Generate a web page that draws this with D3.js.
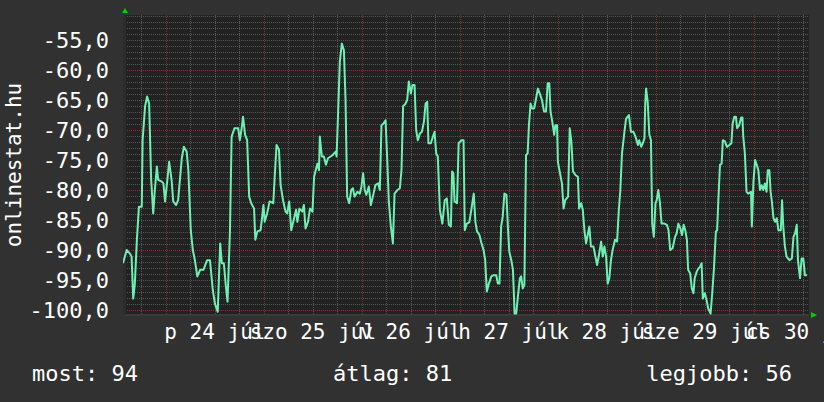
<!DOCTYPE html>
<html>
<head>
<meta charset="utf-8">
<script src="https://cdn.jsdelivr.net/npm/d3@7"></script>
<style>
  body { margin: 0; background: #313131; }
  svg { display: block; }
  text { font-family: "DejaVu Sans Mono", monospace; fill: #ffffff; }
</style>
</head>
<body>
<svg id="chart" width="824" height="402"></svg>
<script>
// hours since 23 Jul 13:30 (7 day window) and ping values (negated ms)
const hours = [
  0.0,0.9,1.7,2.1,2.5,2.9,3.4,3.9,4.6,4.8,5.4,5.9,6.4,6.9,7.4,7.8,8.3,8.6,9.5,9.9,
  10.3,10.7,11.3,11.9,12.3,13.0,13.5,14.0,14.4,14.9,15.6,16.0,16.6,17.1,17.6,18.2,18.9,19.7,20.6,21.3,
  22.0,22.5,23.2,23.8,24.2,24.7,25.2,25.6,26.2,26.6,27.3,28.2,
  28.6,29.0,29.4,29.9,30.4,30.9,31.4,32.1,32.4,32.9,33.7,34.4,34.7,35.3,35.9,36.8,37.2,37.6,38.2,38.6,
  39.2,39.8,40.2,40.7,41.2,41.9,42.4,42.7,43.2,43.9,44.3,44.7,45.3,45.8,46.4,46.8,47.2,47.6,48.0,48.2,
  48.7,49.2,49.7,50.2,51.3,52.1,52.3,52.7,53.1,53.6,54.1,54.5,54.9,55.4,55.9,
  56.3,56.7,57.4,58.0,58.4,58.8,59.2,59.6,60.2,60.7,61.2,61.8,62.5,62.9,63.3,63.8,64.3,64.7,65.1,65.6,
  66.1,66.5,67.2,67.8,68.2,68.6,69.1,69.6,70.0,70.5,70.9,71.4,71.8,72.2,72.7,73.2,73.7,74.1,74.5,74.8,
  75.4,75.9,76.3,76.7,77.1,77.6,78.2,78.8,79.3,79.8,80.3,80.6,80.9,81.2,81.8,82.2,82.9,83.4,83.7,
  84.2,84.8,85.3,85.9,86.3,86.7,87.3,87.8,88.3,88.7,89.1,89.6,90.2,90.8,91.4,91.8,92.2,92.6,93.0,93.4,
  93.9,94.3,94.6,95.1,95.5,95.9,96.3,96.7,97.2,97.5,97.9,98.3,98.7,99.1,99.4,99.8,100.2,100.7,101.1,101.6,
  102.2,102.6,103.1,103.6,104.0,104.4,104.7,105.2,105.6,105.9,106.3,106.5,107.1,107.5,107.9,108.3,109.0,109.4,109.8,110.2,
  110.8,111.4,111.7,
  112.2,112.6,113.0,113.4,113.8,114.2,114.6,115.2,115.7,116.1,116.5,117.1,117.5,117.9,118.3,118.7,119.1,119.5,119.9,120.5,
  121.0,121.4,121.8,122.2,122.8,123.2,123.9,124.4,125.0,125.5,126.1,126.4,126.9,127.3,127.7,127.9,128.1,128.5,128.9,129.3,
  129.6,130.0,130.4,130.7,131.1,131.5,131.9,132.6,133.2,133.6,134.0,134.6,135.2,135.6,136.0,136.5,136.9,137.3,137.7,138.1,
  138.4,
  138.9,139.3,139.7,140.0,140.5,140.9,141.3,141.7,142.0,142.5,143.0,143.3,143.9,144.3,144.7,145.2,145.5,145.8,146.2,146.6,
  146.9,147.4,147.9,148.5,149.0,149.3,149.7,150.1,150.4,150.9,151.4,151.7,151.9,152.3,152.7,153.1,153.8,154.0,154.4,154.8,
  155.2,155.6,156.0,156.4,156.8,157.2,157.6,157.9,158.3,158.6,158.9,159.3,159.7,160.1,160.5,161.1,161.4,161.7,162.1,162.5,
  163.2,163.8,164.2,164.6,165.0,165.3,165.8,166.2,166.6,167.0,167.5
];
const ping = [
  -92.2,-90.0,-90.6,-91.1,-98.1,-95.6,-88.3,-82.8,-82.8,-71.7,-66.1,-64.4,-65.6,-78.3,-83.9,-80.0,-76.1,-78.3,-78.6,-78.9,
  -81.9,-79.4,-75.3,-78.3,-81.9,-82.5,-81.7,-77.8,-74.7,-72.8,-73.6,-76.7,-86.7,-90.0,-91.7,-94.4,-93.3,-93.3,-91.7,-91.7,
  -96.7,-98.9,-100.3,-88.9,-92.2,-92.2,-96.1,-98.6,-86.7,-71.1,-69.7,-69.7,
  -71.7,-70.0,-67.8,-70.8,-71.7,-81.1,-82.2,-83.1,-88.3,-86.9,-86.7,-82.5,-85.3,-83.9,-81.9,-82.2,-77.2,-72.5,-73.3,-79.2,
  -81.7,-83.6,-83.9,-81.9,-86.7,-84.7,-83.3,-85.3,-83.1,-83.6,-82.5,-86.4,-85.3,-83.1,-83.6,-77.8,-76.7,-75.6,-76.7,-71.1,
  -74.4,-74.4,-75.8,-74.7,-74.2,-73.6,-74.4,-66.7,-58.6,-55.6,-56.7,-65.0,-81.1,-82.2,-80.0,
  -79.7,-81.1,-80.3,-80.6,-79.4,-77.2,-80.0,-80.8,-79.4,-82.5,-81.1,-79.2,-78.9,-80.0,-69.2,-68.9,-68.4,-74.7,-81.9,-86.1,
  -88.9,-80.6,-80.0,-79.7,-76.7,-66.0,-65.7,-65.0,-61.9,-63.9,-62.5,-62.5,-70.0,-71.7,-70.6,-70.3,-68.6,-65.6,-65.3,-72.2,
  -72.2,-71.1,-70.3,-73.9,-74.4,-83.3,-85.6,-81.7,-81.4,-85.8,-86.1,-76.9,-77.2,-81.9,-82.2,-72.2,-71.7,-71.7,-86.7,
  -85.6,-85.4,-83.3,-80.6,-85.3,-86.9,-87.5,-88.9,-90.0,-91.7,-96.9,-95.6,-94.4,-94.2,-94.2,-95.6,-95.6,-86.1,-84.4,-80.6,
  -80.8,-86.7,-90.3,-91.7,-93.3,-100.6,-100.6,-97.8,-94.7,-94.4,-96.4,-95.8,-74.2,-73.9,-69.4,-65.6,-66.4,-66.4,-65.0,-63.1,
  -64.2,-65.0,-66.9,-66.9,-62.2,-62.2,-66.9,-68.9,-70.8,-69.2,-69.2,-75.3,-77.5,-78.9,-83.1,-81.7,-81.1,-69.7,-71.9,-76.9,
  -77.5,-77.8,-83.1,
  -82.2,-83.3,-86.7,-88.9,-87.5,-86.1,-89.4,-89.4,-91.1,-92.5,-91.1,-88.6,-91.1,-89.4,-91.1,-95.6,-94.7,-91.7,-90.0,-88.3,
  -88.6,-83.6,-80.0,-73.9,-70.3,-68.1,-67.5,-70.3,-70.3,-71.1,-72.5,-71.7,-72.8,-72.2,-71.4,-65.6,-63.1,-65.3,-70.8,-71.7,
  -85.6,-87.8,-82.2,-81.7,-80.0,-82.2,-85.6,-85.6,-85.8,-86.7,-90.0,-89.7,-87.8,-87.2,-85.6,-86.4,-87.5,-85.8,-86.7,-88.3,
  -93.3,
  -93.9,-96.4,-97.2,-94.7,-93.6,-93.1,-92.8,-92.2,-98.1,-97.2,-98.6,-99.7,-100.6,-97.2,-93.3,-86.9,-86.7,-81.7,-75.8,-75.6,
  -71.7,-71.9,-72.8,-72.5,-72.2,-68.9,-67.8,-67.8,-69.7,-69.2,-67.9,-67.9,-71.1,-73.9,-80.3,-80.6,-80.3,-86.1,-78.6,-75.0,
  -75.8,-76.7,-80.0,-79.2,-80.0,-78.9,-80.3,-76.7,-76.7,-80.3,-81.9,-84.7,-85.3,-84.7,-86.7,-86.7,-81.7,-86.1,-89.4,-91.1,
  -91.7,-91.4,-87.8,-87.2,-85.8,-91.7,-94.7,-91.4,-91.4,-94.2,-94.2
];

const yTicks = [-55, -60, -65, -70, -75, -80, -85, -90, -95, -100];
const dayNames = ["v", "h", "k", "sze", "cs", "p", "szo"];
const monthNames = ["jan", "febr", "márc", "ápr", "máj", "jún", "júl", "aug", "szept", "okt", "nov", "dec"];
const legendLabels = ["most", "átlag", "legjobb"];
const legendValues = [94, 81, 56];
const title = "onlinestat.hu";

const svg = d3.select("#chart");
const W = 824, H = 402;
const plot = { left: 123, right: 809, top: 15, bottom: 315 };

const start = new Date(2015, 6, 23, 13, 30);
const end = d3.timeHour.offset(start, 168);

const x = d3.scaleTime().domain([start, end]).range([plot.left, plot.right]);
const y = d3.scaleLinear().domain([-100.83, -50.83]).range([plot.bottom, plot.top]);

const hu = d3.timeFormatLocale({
  dateTime: "%Y. %B %-e., %A %X", date: "%Y. %m. %d.", time: "%H:%M:%S",
  periods: ["de.", "du."],
  days: ["vasárnap", "hétfő", "kedd", "szerda", "csütörtök", "péntek", "szombat"],
  shortDays: dayNames,
  months: ["január", "február", "március", "április", "május", "június", "július", "augusztus", "szeptember", "október", "november", "december"],
  shortMonths: monthNames
});
const dayFmt = hu.format("%a %d %b");

// backgrounds
svg.append("rect").attr("width", W).attr("height", H).attr("fill", "#313131");
svg.append("rect")
  .attr("x", plot.left).attr("y", plot.top)
  .attr("width", plot.right - plot.left).attr("height", plot.bottom - plot.top)
  .attr("fill", "#222222");

const grid = svg.append("g").attr("shape-rendering", "crispEdges");

// horizontal grid, every unit, red on tens
d3.range(-100, -50).forEach(v => {
  const yy = Math.round(y(v)) + 0.5;
  grid.append("line")
    .attr("x1", plot.left).attr("x2", plot.right)
    .attr("y1", yy).attr("y2", yy)
    .attr("stroke", v % 10 === 0 ? "#7a3434" : "#555555")
    .attr("stroke-dasharray", "1,1");
});

// vertical grid, every 6 hours, red at midnight
d3.timeHour.every(6).range(d3.timeHour.offset(start, 1), end).forEach(t => {
  const xx = Math.round(x(t)) + 0.5;
  const major = t.getHours() === 0;
  grid.append("line")
    .attr("x1", xx).attr("x2", xx)
    .attr("y1", plot.top).attr("y2", plot.bottom + (major ? 2 : 0))
    .attr("stroke", major ? "#7a3434" : "#555555")
    .attr("stroke-dasharray", "1,1");
});

// axes
grid.append("line")
  .attr("x1", plot.left).attr("x2", plot.right)
  .attr("y1", plot.bottom - 0.5).attr("y2", plot.bottom - 0.5)
  .attr("stroke", "#3a3a3a").attr("stroke-width", 2);
grid.append("line")
  .attr("x1", plot.left + 1).attr("x2", plot.left + 1)
  .attr("y1", plot.top).attr("y2", plot.bottom)
  .attr("stroke", "#2c2c2c").attr("stroke-width", 3);

// arrows
svg.append("path")
  .attr("d", `M125,8 L122,13 L128,13 Z`)
  .attr("fill", "#00d000");
svg.append("path")
  .attr("d", `M811,312 L817,315 L811,318 Z`)
  .attr("fill", "#00d000");

// data line
const pts = hours.map((h, i) => [d3.timeMinute.offset(start, Math.round(h * 60)), ping[i]]);
const line = d3.line().x(d => x(d[0])).y(d => y(d[1]));
svg.append("defs").append("clipPath").attr("id", "clip")
  .append("rect")
  .attr("x", plot.left).attr("y", plot.top)
  .attr("width", plot.right - plot.left).attr("height", plot.bottom - plot.top);
svg.append("path")
  .datum(pts)
  .attr("clip-path", "url(#clip)")
  .attr("d", line)
  .attr("fill", "none")
  .attr("stroke", "#6ef0b4")
  .attr("stroke-width", 2)
  .attr("stroke-linejoin", "round");

// y labels
svg.append("g").selectAll("text")
  .data(yTicks)
  .join("text")
  .attr("x", 109)
  .attr("y", d => y(d))
  .attr("dy", "0.36em")
  .attr("text-anchor", "end")
  .attr("font-size", 22)
  .text(d => d.toFixed(1).replace(".", ","));

// x labels, centred at noon
const days = d3.timeDay.range(d3.timeDay.ceil(start), end);
svg.append("g").selectAll("text")
  .data(days)
  .join("text")
  .attr("x", d => x(d3.timeHour.offset(d, 12)))
  .attr("y", 339)
  .attr("text-anchor", "middle")
  .attr("font-size", 21)
  .text(d => dayFmt(d));

// vertical title
svg.append("text")
  .attr("transform", `translate(21,${(plot.top + plot.bottom) / 2}) rotate(-90)`)
  .attr("text-anchor", "middle")
  .attr("font-size", 21)
  .text(title);

// legend
const legendX = [32, 333, 792];
const legendAnchor = ["start", "start", "end"];
svg.append("g").selectAll("text")
  .data(legendLabels)
  .join("text")
  .attr("x", (d, i) => legendX[i])
  .attr("y", 381)
  .attr("text-anchor", (d, i) => legendAnchor[i])
  .attr("font-size", 22)
  .text((d, i) => d + ": " + legendValues[i]);
</script>
</body>
</html>
